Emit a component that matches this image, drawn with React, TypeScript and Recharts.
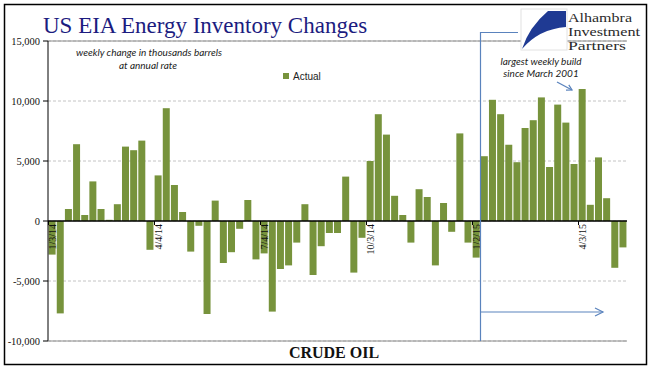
import { BarChart, Bar, XAxis, YAxis, CartesianGrid, ReferenceLine, Legend } from 'recharts';

// weekly dates (Fridays), 1/3/14 .. 5/8/15
const weeks = [
  '1/3/14', '1/10/14', '1/17/14', '1/24/14', '1/31/14', '2/7/14', '2/14/14', '2/21/14', '2/28/14',
  '3/7/14', '3/14/14', '3/21/14', '3/28/14', '4/4/14', '4/11/14', '4/18/14', '4/25/14', '5/2/14',
  '5/9/14', '5/16/14', '5/23/14', '5/30/14', '6/6/14', '6/13/14', '6/20/14', '6/27/14', '7/4/14',
  '7/11/14', '7/18/14', '7/25/14', '8/1/14', '8/8/14', '8/15/14', '8/22/14', '8/29/14', '9/5/14',
  '9/12/14', '9/19/14', '9/26/14', '10/3/14', '10/10/14', '10/17/14', '10/24/14', '10/31/14',
  '11/7/14', '11/14/14', '11/21/14', '11/28/14', '12/5/14', '12/12/14', '12/19/14', '12/26/14',
  '1/2/15', '1/9/15', '1/16/15', '1/23/15', '1/30/15', '2/6/15', '2/13/15', '2/20/15', '2/27/15',
  '3/6/15', '3/13/15', '3/20/15', '3/27/15', '4/3/15', '4/10/15', '4/17/15', '4/24/15', '5/1/15',
  '5/8/15',
];

// weekly change, thousands of barrels at annual rate
const actual = [
  -2800, -7700, 1000, 6400, 500, 3300, 1000, 100, 1400, 6200, 5900, 6700, -2400,
  3800, 9400, 3000, 750, -2550, -400, -7750, 1700, -3500, -2600, -650, 1750, -3200,
  -2700, -7550, -4000, -3700, -1800, 1400, -4500, -2100, -1000, -1000, 3700, -4300, -1400,
  5000, 8900, 7200, 2100, 500, -1800, 2650, 2000, -3700, 1500, -900, 7300, -1800,
  -3050, 5400, 10100, 8900, 6350, 4900, 7750, 8400, 10300, 4500, 9700, 8200, 4750,
  11000, 1350, 5300, 1900, -3900, -2200,
];

const labelWeeks = ['1/3/14', '4/4/14', '7/4/14', '10/3/14', '1/2/15', '4/3/15'];
const yTicks = [-10000, -5000, 0, 5000, 10000, 15000];

const data = weeks.map((week, i) => ({ week, actual: actual[i] }));

const W = 659;
const H = 386;
const margin = { top: 41, right: 32, bottom: 44, left: 4 };
const xAxisH = 1;
const yAxisW = 44;
const plotW = W - margin.left - yAxisW - margin.right;
const plotH = H - margin.top - margin.bottom - xAxisH;
const yMin = -10000;
const yMax = 15000;

const serif = 'Liberation Serif, Times New Roman, serif';
const blue = '#5a83bd';

function WeekTick(props: any) {
  const { x, y, payload } = props;
  // axis sits on the bottom border; labels hang from the zero line
  const zeroY = y - (plotH * (0 - yMin)) / (yMax - yMin);
  const band = plotW / weeks.length;
  const tx = Math.round(x - band / 2) + 0.5;
  const ty = zeroY + 3;
  return (
    <g>
      <line x1={tx} x2={tx} y1={zeroY} y2={zeroY + 4} stroke="#000" />
      <text
        x={x}
        y={ty}
        transform={`rotate(-90 ${x} ${ty})`}
        textAnchor="end"
        dominantBaseline="central"
        fontSize={10}
        fontFamily={serif}
        fill="#111"
      >
        {payload.value}
      </text>
    </g>
  );
}

export default function App() {
  return (
    <div style={{ position: 'absolute', left: 0, top: 0, width: W, height: H, background: '#fff' }}>
      <BarChart width={W} height={H} data={data} margin={margin} barCategoryGap={0.6}>
        <CartesianGrid vertical={false} stroke="#c4c4c4" strokeDasharray="3 2" />
        <YAxis
          domain={[yMin, yMax]}
          ticks={yTicks}
          width={yAxisW}
          tickSize={5}
          tickMargin={3}
          axisLine={{ stroke: '#000' }}
          tickLine={{ stroke: '#000' }}
          tickFormatter={(v: number) => v.toLocaleString('en-US')}
          tick={{ fontSize: 10.5, fill: '#111', fontFamily: serif }}
        />
        <YAxis yAxisId="frame" orientation="right" width={0} tick={false} tickLine={false} axisLine={{ stroke: '#8c8c8c' }} />
        <ReferenceLine y={yMax} stroke="#8c8c8c" />
        <Legend
          layout="horizontal"
          verticalAlign="middle"
          align="center"
          iconType="square"
          iconSize={6}
          wrapperStyle={{ top: 69, left: 283, width: 'auto', lineHeight: '12px' }}
          formatter={(v: string) => (
            <span style={{ color: '#222', fontSize: 10, fontFamily: 'Liberation Sans, Arial, sans-serif' }}>{v}</span>
          )}
        />
        <Bar dataKey="actual" name="Actual" fill="#77933c" isAnimationActive={false} />
        <ReferenceLine y={0} stroke="#000" strokeWidth={1.3} />
        <XAxis
          dataKey="week"
          ticks={labelWeeks}
          interval={0}
          height={xAxisH}
          tickSize={0}
          tickMargin={0}
          tickLine={false}
          axisLine={{ stroke: '#8c8c8c' }}
          tick={(p: any) => <WeekTick {...p} />}
        />
      </BarChart>

      <svg
        width={W}
        height={H}
        style={{ position: 'absolute', left: 0, top: 0, pointerEvents: 'none' }}
      >
        <rect x={4.5} y={4.5} width={642} height={360} fill="none" stroke="#000" strokeWidth={1.5} />
        <text x={43} y={33} fontSize={23} fontFamily={serif} fill="#1c1c80">
          US EIA Energy Inventory  Changes
        </text>

        <g fontFamily="Lato, Open Sans, sans-serif" fontStyle="italic" fontSize={10} fill="#222" textAnchor="middle">
          <text x={149} y={56}>weekly change in thousands barrels</text>
          <text x={148} y={69}>at annual rate</text>
          <text x={541} y={65}>largest weekly build</text>
          <text x={541} y={77}>since March 2001</text>
        </g>

        {/* highlight bracket for 2015 */}
        <polyline points="518,32.5 480.5,32.5 480.5,341" fill="none" stroke={blue} strokeWidth={1.2} />
        <line x1={481} y1={312} x2={603} y2={312} stroke={blue} strokeWidth={1.2} />
        <polyline points="595,308 603,312 595,316" fill="none" stroke={blue} strokeWidth={1.2} />
        <line x1={557} y1={82} x2={572} y2={90} stroke={blue} strokeWidth={1.2} />
        <polyline points="568.8,84.9 572,90 566,90.2" fill="none" stroke={blue} strokeWidth={1.2} />

        {/* logo */}
        <g transform="translate(521 9)">
          <rect x={0} y={0} width={46} height={41} fill="#fff" stroke="#e2e2e2" />
          <path d="M27,2 L45,2 L45,18 Q18,20 1,40 Q8,18 27,2 Z" fill="#1f3a93" />
        </g>
        <g fontFamily={serif} fontSize={12.5} fill="#2a2a2a" lengthAdjust="spacingAndGlyphs">
          <text x={568} y={22} textLength={64} lengthAdjust="spacingAndGlyphs">Alhambra</text>
          <text x={568} y={36} textLength={72} lengthAdjust="spacingAndGlyphs">Investment</text>
          <text x={568} y={50} textLength={58} lengthAdjust="spacingAndGlyphs">Partners</text>
        </g>

        <text x={334} y={358} fontSize={16} fontWeight="bold" fontFamily={serif} fill="#111" textAnchor="middle">
          CRUDE OIL
        </text>
      </svg>
    </div>
  );
}
